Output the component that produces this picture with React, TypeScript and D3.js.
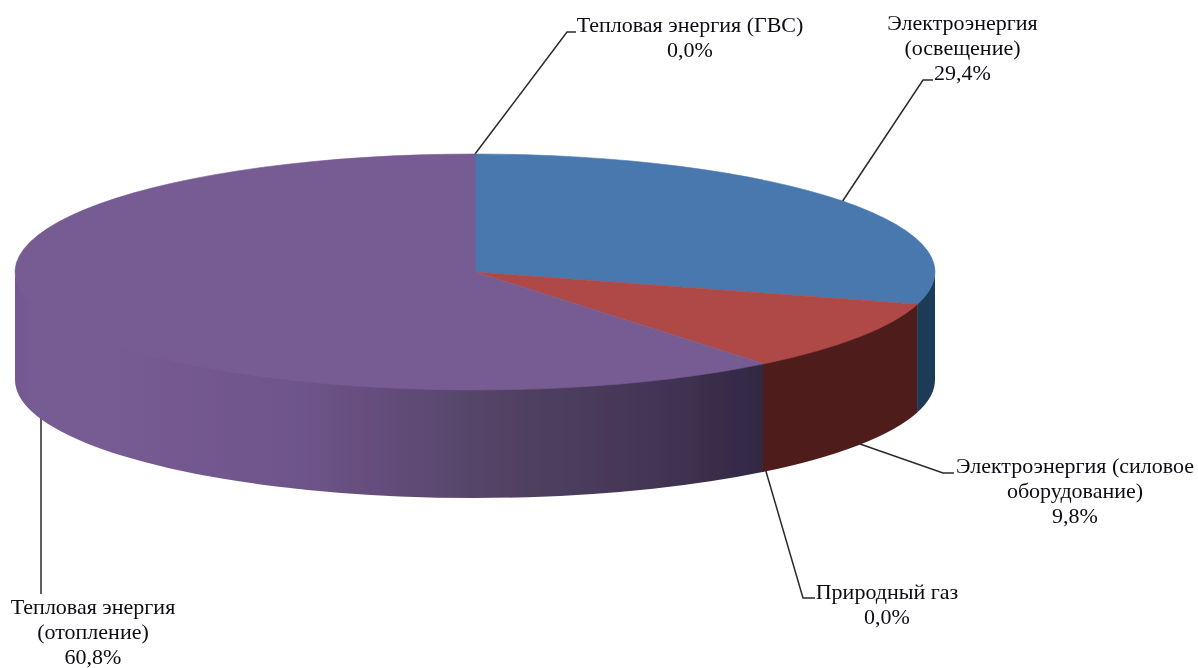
import React from "react";
import * as d3 from "d3";

const categories = [
  "Электроэнергия (освещение)",
  "Электроэнергия (силовое оборудование)",
  "Природный газ",
  "Тепловая энергия (отопление)",
  "Тепловая энергия (ГВС)",
];
const values = [29.4, 9.8, 0.0, 60.8, 0.0];
const percentLabels = ["29,4%", "9,8%", "0,0%", "60,8%", "0,0%"];
const labelLines = [
  ["Электроэнергия", "(освещение)"],
  ["Электроэнергия (силовое", "оборудование)"],
  ["Природный газ"],
  ["Тепловая энергия", "(отопление)"],
  ["Тепловая энергия (ГВС)"],
];
const topColors = ["#4a78ae", "#ae4a46", "#8a9c4e", "#775c94", "#46a0b8"];
const sideStops = [
  [["0", "#1f3a56"], ["1", "#1f3a56"]],
  [["0", "#4f1f1e"], ["1", "#4f1f1e"]],
  [["0", "#4f1f1e"], ["1", "#4f1f1e"]],
  [["0", "#735991"], ["0.04", "#775c94"], ["0.18", "#755a91"], ["0.38", "#6e5489"], ["0.49", "#644d7c"], ["0.65", "#534264"], ["0.85", "#433555"], ["1", "#312843"]],
  [["0", "#775c94"], ["1", "#775c94"]],
];
const labelCenters: [number, number][] = [
  [962.5, 47.7], [1075, 491], [887, 604], [93, 632], [690, 37.5],
];
const leaders: [number, number][][] = [
  [[842, 202], [923, 80], [933, 80]],
  [[860, 444], [943, 473], [954, 473]],
  [[765, 468], [803, 598], [815, 598]],
  [[41, 418], [41, 594]],
  [[475, 154], [567, 32], [576, 32]],
];

const W = 1198, H = 668;
const cx = 475, cy = 272, rx = 460, ry = 118, depth = 108;
const fontSize = 22, lineH = 25;

const pie = d3.pie<number>().sort(null).startAngle(0).endAngle(2 * Math.PI);
const arcs = pie(values);
const px = d3.scaleLinear().domain([-1, 1]).range([cx - rx, cx + rx]);
const py = d3.scaleLinear().domain([-1, 1]).range([cy - ry, cy + ry]);
const pt = (a: number, dz = 0): [number, number] => [px(Math.sin(a)), py(-Math.cos(a)) + dz];

function topPath(a0: number, a1: number) {
  const [x0, y0] = pt(a0), [x1, y1] = pt(a1);
  const large = a1 - a0 > Math.PI ? 1 : 0;
  return `M${cx},${cy}L${x0},${y0}A${rx},${ry} 0 ${large} 1 ${x1},${y1}Z`;
}
function sidePath(a0: number, a1: number) {
  const s = Math.max(a0, Math.PI / 2);
  const e = Math.min(a1 + 0.003, (3 * Math.PI) / 2);
  if (a1 <= a0 || e <= s) return null;
  const [x0, y0] = pt(s, -1.5), [x1, y1] = pt(e, -1.5), [x2, y2] = pt(e, depth), [x3, y3] = pt(s, depth);
  return `M${x0},${y0}A${rx},${ry} 0 0 1 ${x1},${y1}L${x2},${y2}A${rx},${ry} 0 0 0 ${x3},${y3}Z`;
}
const line = d3.line();

export default function App() {
  const sideOrder = arcs.map((a, i) => ({ a, i })).reverse();
  return (
    <svg width={W} height={H} viewBox={`0 0 ${W} ${H}`}
      style={{ position: "absolute", left: 0, top: 0, background: "#fff" }}>
      <defs>
        {sideStops.map((stops, i) => (
          <linearGradient key={i} id={`side${i}`} gradientUnits="userSpaceOnUse"
            x1={cx - rx} x2={pt(arcs[3].startAngle)[0]} y1={0} y2={0}>
            {stops.map(([o, c]) => <stop key={o} offset={o} stopColor={c} />)}
          </linearGradient>
        ))}
        <filter id="soft" x="0" y="0" width={W} height={H} filterUnits="userSpaceOnUse">
          <feGaussianBlur stdDeviation={0.4} />
        </filter>
      </defs>
      <g filter="url(#soft)">
        <rect width={W} height={H} fill="#fff" />
        {leaders.map((l, i) => (
          <path key={i} d={line(l) as string} fill="none" stroke="#2a2a2a" strokeWidth={1.5} />
        ))}
        {sideOrder.map(({ a, i }) => {
          const d = sidePath(a.startAngle, a.endAngle);
          return d ? <path key={i} d={d} fill={`url(#side${i})`} /> : null;
        })}
        {arcs.map((a, i) =>
          a.endAngle > a.startAngle ? (
            <path key={i} d={topPath(a.startAngle, a.endAngle)} fill={topColors[i]} stroke={topColors[i]} strokeWidth={0.6} />
          ) : null
        )}
        {categories.map((c, i) => {
          const rows = [...labelLines[i], percentLabels[i]];
          const [x, y] = labelCenters[i];
          return (
            <text key={c} x={x} fontFamily="'Liberation Serif', serif" fontSize={fontSize} fill="#0a0a14" textAnchor="middle">
              {rows.map((r, j) => (
                <tspan key={j} x={x} y={y + j * lineH - ((rows.length - 1) * lineH) / 2 + 7}>{r}</tspan>
              ))}
            </text>
          );
        })}
      </g>
    </svg>
  );
}
